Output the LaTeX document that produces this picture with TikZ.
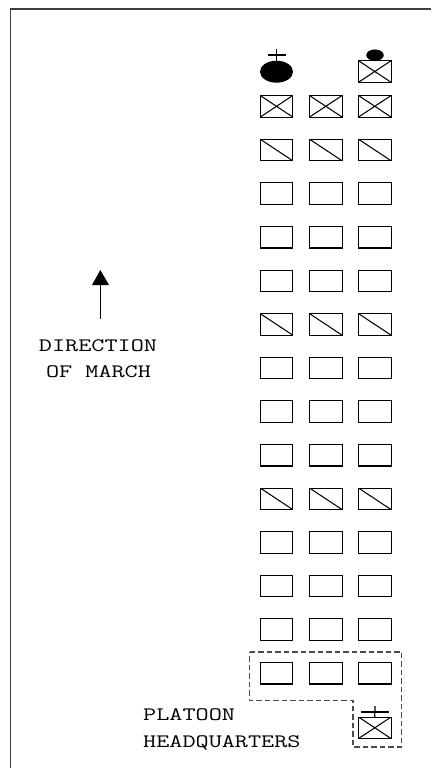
\documentclass[tikz,border=0pt]{standalone}
\usepackage{fontspec}
\setmonofont[FakeStretch=1.34]{Latin Modern Mono}
\tikzset{
  x=1pt,y=-1pt,
  unit/.style={draw=black,line width=1.1pt,minimum width=32.5pt,minimum height=21.5pt,inner sep=0pt,outer sep=0pt},
  crossed/.style={unit,path picture={\draw[line width=1.05pt] (path picture bounding box.north west)--(path picture bounding box.south east) (path picture bounding box.south west)--(path picture bounding box.north east);}},
  slashed/.style={unit,path picture={\draw[line width=1.05pt] (path picture bounding box.north west)--(path picture bounding box.south east);}},
  label/.style={font=\ttfamily\fontsize{19}{19}\selectfont,inner sep=0pt,anchor=base},
  labelw/.style={label,anchor=base west},
  solidoval/.style={ellipse,fill=black,draw=none,inner sep=0pt,outer sep=0pt},
  thinline/.style={line width=1.2pt},
  dashline/.style={line width=1.2pt,dash pattern=on 5.5pt off 3pt,draw=black!70},
  frameline/.style={line width=1.4pt,draw=black!75}
}
\usetikzlibrary{shapes.geometric}
\begin{document}
\begin{tikzpicture}
\useasboundingbox (0,0) rectangle (431,768);
\coordinate (ftr) at (431,9);
\coordinate (ftl) at (10.5,9);
\coordinate (fbl) at (10.5,768);
\draw[frameline] (ftr) -- (ftl) -- (fbl);
% rows of the platoon
\foreach \row/\y/\kind in {1/106.3/crossed,2/150/slashed,3/193.6/unit,4/237.2/unit,5/280.8/unit,6/324.4/slashed,7/368/unit,8/411.6/unit,9/455.2/unit,10/498.8/slashed,11/542.4/unit,12/586/unit,13/629.6/unit,14/673.2/unit}{
  \foreach \col/\x in {a/276.5,b/325.8,c/374.8}{
    \node[\kind] (r\row\col) at (\x,\y) {};
  }
}
% leader and guide
\node[solidoval,minimum width=33pt,minimum height=22pt] (lead) at (276.5,71.7) {};
\coordinate (leadtop) at (276.5,49);
\coordinate (leadl) at (268,55);
\coordinate (leadr) at (285.5,55);
\draw[thinline] (leadtop) -- (lead.center);
\draw[thinline] (leadl) -- (leadr);
\node[crossed] (guide) at (374.8,71.5) {};
\node[solidoval,minimum width=17.5pt,minimum height=11.5pt] (guidehead) at (375,55.2) {};
% platoon headquarters
\node[crossed] (hq) at (374.8,727.8) {};
\coordinate (hqtop) at (375,706);
\coordinate (hql) at (361,712);
\coordinate (hqr) at (388.5,712);
\draw[thinline] (hqtop) -- (hq.north);
\draw[thinline] (hql) -- (hqr);
\coordinate (d1) at (249.5,652);
\coordinate (d2) at (401.7,652);
\coordinate (d3) at (401.7,747);
\coordinate (d4) at (353,747);
\coordinate (d5) at (353,700.7);
\coordinate (d6) at (249.5,700.7);
\draw[dashline] (d1) -- (d2) -- (d3) -- (d4) -- (d5) -- (d6) -- cycle;
% direction of march
\coordinate (arrowtail) at (100.3,319);
\coordinate (arrowbase) at (100.3,284);
\coordinate (arrowtip) at (100.3,270);
\coordinate (arrowl) at (92,285);
\coordinate (arrowr) at (109,285);
\draw[line width=1.2pt] (arrowtail) -- (arrowbase);
\fill (arrowtip) -- (arrowl) -- (arrowr) -- cycle;
\node[label] (dir) at (98,351.7) {DIRECTION};
\node[label] (ofm) at (98.5,377.7) {OF MARCH};
\node[labelw] (pla) at (143,720.7) {PLATOON};
\node[labelw] (hea) at (143,747.7) {HEADQUARTERS};
\end{tikzpicture}
\end{document}
